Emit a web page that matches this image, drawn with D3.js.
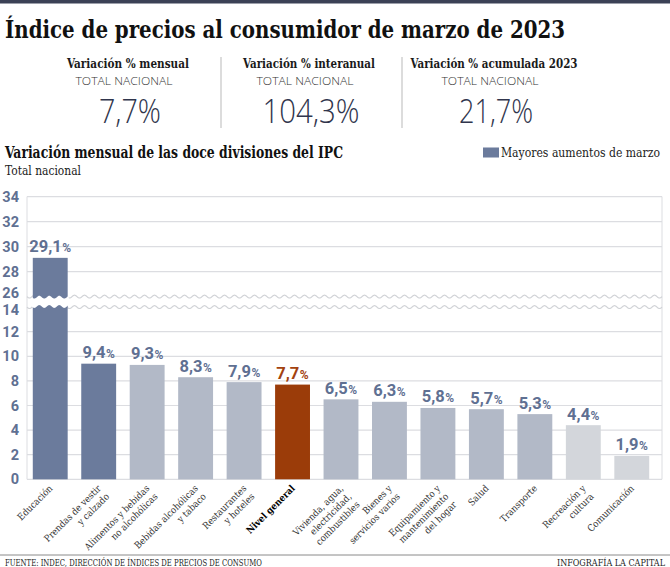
<!DOCTYPE html>
<html>
<head>
<meta charset="utf-8">
<script src="https://cdn.jsdelivr.net/npm/d3@7"></script>
<style>
  html, body { margin: 0; padding: 0; background: #fff; }
  svg { display: block; }
</style>
</head>
<body>
<svg id="chart" width="670" height="567"></svg>
<script>
// ---------------- DATA ----------------
const categories = [
  "Educación",
  "Prendas de vestir\ny calzado",
  "Alimentos y bebidas\nno alcohólicas",
  "Bebidas alcohólicas\ny tabaco",
  "Restaurantes\ny hoteles",
  "Nivel general",
  "Vivienda, agua,\nelectricidad,\ncombustibles",
  "Bienes y\nservicios varios",
  "Equipamiento y\nmantenimiento\ndel hogar",
  "Salud",
  "Transporte",
  "Recreación y\ncultura",
  "Comunicación"
];
const values = [29.1, 9.4, 9.3, 8.3, 7.9, 7.7, 6.5, 6.3, 5.8, 5.7, 5.3, 4.4, 1.9];
const groups = ["top", "top", "mid", "mid", "mid", "general", "mid", "mid", "mid", "mid", "mid", "low", "low"];
const lowerTicks = [0, 2, 4, 6, 8, 10, 12, 14];
const upperTicks = [26, 28, 30, 32, 34];
const headlineLabels = ["Variación % mensual", "Variación % interanual", "Variación % acumulada 2023"];
const headlineValues = ["7,7%", "104,3%", "21,7%"];
const title = "Índice de precios al consumidor de marzo de 2023";
const subtitle = "Variación mensual de las doce divisiones del IPC";
const subsubtitle = "Total nacional";
const legendLabel = "Mayores aumentos de marzo";
const sourceText = "FUENTE:  INDEC, DIRECCIÓN DE ÍNDICES DE PRECIOS DE CONSUMO";
const creditText = "INFOGRAFÍA LA CAPITAL";

// ---------------- STYLE ----------------
const colors = { top: "#6b7b9c", mid: "#b2b9c7", low: "#d3d6db", general: "#9b3c09" };
const labelColor = "#5f7092";
const serif = "'DejaVu Serif', 'Liberation Serif', serif";
const narrow = "'Liberation Sans Narrow', 'Roboto', 'Liberation Sans', sans-serif";
const light = "'Open Sans', 'Lato', sans-serif";

const svg = d3.select("#chart");
const W = 670;

// top dark bar
svg.append("rect").attr("x", 0).attr("y", 0).attr("width", W).attr("height", 3.5).attr("fill", "#3b4156");

// title
svg.append("text").attr("x", 5).attr("y", 37.5)
  .attr("font-family", serif).attr("font-weight", 700).attr("font-size", 25)
  .attr("font-stretch", "condensed")
  .attr("textLength", 560).attr("lengthAdjust", "spacingAndGlyphs")
  .attr("fill", "#111").text(title);

// headline columns
const colX = [128, 309, 494];
const headW = [122, 132, 167];
const valW = [62, 97, 74];
headlineLabels.forEach((h, i) => {
  svg.append("text").attr("x", colX[i]).attr("y", 68).attr("text-anchor", "middle")
    .attr("font-family", serif).attr("font-weight", 700).attr("font-size", 12.5)
    .attr("font-stretch", "condensed")
    .attr("textLength", headW[i]).attr("lengthAdjust", "spacingAndGlyphs")
    .attr("fill", "#1a1a1a").text(h);
  svg.append("text").attr("x", colX[i] - 4).attr("y", 84.5).attr("text-anchor", "middle")
    .attr("font-family", light).attr("font-weight", 300).attr("font-size", 11.5)
    .attr("textLength", 97).attr("lengthAdjust", "spacingAndGlyphs")
    .attr("fill", "#333").text("TOTAL NACIONAL");
  svg.append("text").attr("x", colX[i] + 2).attr("y", 122.5).attr("text-anchor", "middle")
    .attr("font-family", light).attr("font-weight", 300).attr("font-size", 33)
    .attr("textLength", valW[i]).attr("lengthAdjust", "spacingAndGlyphs")
    .attr("fill", "#30354c").text(headlineValues[i]);
});
[221, 402].forEach(x => {
  svg.append("line").attr("x1", x).attr("x2", x).attr("y1", 57).attr("y2", 128)
    .attr("stroke", "#b9b9b9").attr("stroke-width", 1);
});

// subtitle
svg.append("text").attr("x", 5).attr("y", 158)
  .attr("font-family", serif).attr("font-weight", 700).attr("font-size", 16.5)
  .attr("font-stretch", "condensed")
  .attr("textLength", 338).attr("lengthAdjust", "spacingAndGlyphs")
  .attr("fill", "#111").text(subtitle);
svg.append("text").attr("x", 5).attr("y", 175)
  .attr("font-family", serif).attr("font-size", 12.5)
  .attr("font-stretch", "condensed")
  .attr("textLength", 76).attr("lengthAdjust", "spacingAndGlyphs")
  .attr("fill", "#222").text(subsubtitle);

// legend
svg.append("rect").attr("x", 483).attr("y", 147.5).attr("width", 16).attr("height", 10)
  .attr("fill", colors.top);
svg.append("text").attr("x", 501).attr("y", 157)
  .attr("font-family", serif).attr("font-size", 12)
  .attr("font-stretch", "condensed")
  .attr("textLength", 159).attr("lengthAdjust", "spacingAndGlyphs")
  .attr("fill", "#222").text(legendLabel);

// ---------------- CHART ----------------
const plotLeft = 27, plotRight = 662;
const yLow = d3.scaleLinear().domain([0, 14]).range([479.3, 307.1]);
const yUp = d3.scaleLinear().domain([26, 34]).range([296.6, 196.6]);
const yPos = v => (v > 14 ? yUp(v) : yLow(v));
const x = d3.scaleBand().domain(d3.range(categories.length)).range([26, 656])
  .paddingInner(0.28).paddingOuter(0.14);

const grid = svg.append("g");
lowerTicks.filter(t => t !== 14).forEach(t => {
  grid.append("line").attr("x1", plotLeft).attr("x2", plotRight)
    .attr("y1", yLow(t)).attr("y2", yLow(t)).attr("stroke", "#dcdde1").attr("stroke-width", 1.2);
});
upperTicks.filter(t => t !== 26).forEach(t => {
  grid.append("line").attr("x1", plotLeft).attr("x2", plotRight)
    .attr("y1", yUp(t)).attr("y2", yUp(t)).attr("stroke", "#dcdde1").attr("stroke-width", 1.2);
});
grid.append("line").attr("x1", plotLeft).attr("x2", plotLeft).attr("y1", yUp(34)).attr("y2", yLow(0))
  .attr("stroke", "#dcdde1").attr("stroke-width", 1);
grid.append("line").attr("x1", plotRight).attr("x2", plotRight).attr("y1", yUp(34)).attr("y2", yLow(0))
  .attr("stroke", "#dcdde1").attr("stroke-width", 1);

// wavy break lines
const wave = (x0, x1, y0) => d3.range(x0, x1 + 0.5, 0.5)
  .map(xx => [xx, y0 + 1.4 * Math.sin((xx - x0) / 10 * 2 * Math.PI)]);
const line = d3.line();
[yUp(26), yLow(14)].forEach(yy => {
  grid.append("path").attr("d", line(wave(plotLeft, plotRight, yy)))
    .attr("fill", "none").attr("stroke", "#d0d2d6").attr("stroke-width", 1.2);
});

// bars
const bars = svg.append("g");
values.forEach((v, i) => {
  bars.append("rect").attr("x", x(i)).attr("width", x.bandwidth())
    .attr("y", yPos(v)).attr("height", yLow(0) - yPos(v))
    .attr("fill", colors[groups[i]]);
  if (v > 14) {
    const top = wave(x(i) - 1, x(i) + x.bandwidth() + 1, yUp(26) + 0.6);
    const bot = wave(x(i) - 1, x(i) + x.bandwidth() + 1, yLow(14) - 0.6).reverse();
    bars.append("path").attr("d", line(top.concat(bot)) + "Z").attr("fill", "#fff");
  }
});

// value labels
values.forEach((v, i) => {
  const t = svg.append("text")
    .attr("x", x(i) + x.bandwidth() / 2).attr("y", yPos(v) - 5.5)
    .attr("text-anchor", "middle")
    .attr("font-family", narrow).attr("font-weight", 700)
    .attr("fill", groups[i] === "general" ? "#a3420f" : labelColor);
  t.append("tspan").attr("font-size", 16.5).text(String(v).replace(".", ","));
  t.append("tspan").attr("font-size", 12).attr("dx", 0.5).text("%");
});

// y tick labels
const tickText = (t, yy) => svg.append("text").attr("x", 19).attr("y", yy + 5)
  .attr("text-anchor", "end").attr("font-family", narrow).attr("font-weight", 700)
  .attr("font-size", 14.5).attr("fill", labelColor).text(t);
lowerTicks.forEach(t => tickText(t, yLow(t) + (t === 14 ? 2.5 : 0)));
upperTicks.forEach(t => tickText(t, yUp(t) - (t === 26 ? 3.5 : 0)));

// x labels
categories.forEach((c, i) => {
  const cx = x(i) + x.bandwidth() / 2 + 3;
  const g = svg.append("g").attr("transform", `translate(${cx},489) rotate(-45)`);
  const t = g.append("text").attr("text-anchor", "end")
    .attr("font-family", serif).attr("font-size", 9.5)
    .attr("font-stretch", "condensed")
    .attr("font-weight", groups[i] === "general" ? 700 : 400)
    .attr("fill", groups[i] === "general" ? "#000" : "#333");
  c.split("\n").forEach((ln, k) => {
    t.append("tspan").attr("x", 0).attr("dy", k === 0 ? 0 : 11.5).text(ln);
  });
});

// footer
svg.append("line").attr("x1", 0).attr("x2", W).attr("y1", 555).attr("y2", 555)
  .attr("stroke", "#8a8a8a").attr("stroke-width", 1);
svg.append("text").attr("x", 5).attr("y", 565.5)
  .attr("font-family", serif).attr("font-size", 8.5).attr("font-stretch", "condensed")
  .attr("textLength", 257).attr("lengthAdjust", "spacingAndGlyphs")
  .attr("fill", "#222").text(sourceText);
svg.append("text").attr("x", 665).attr("y", 565.5).attr("text-anchor", "end")
  .attr("font-family", serif).attr("font-size", 8.5).attr("font-stretch", "condensed")
  .attr("textLength", 108).attr("lengthAdjust", "spacingAndGlyphs")
  .attr("fill", "#222").text(creditText);
</script>
</body>
</html>
